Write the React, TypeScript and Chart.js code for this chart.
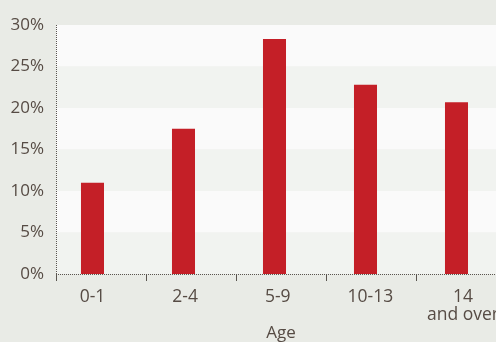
import React, { useEffect, useRef } from "react";
import { Chart, registerables } from "chart.js";

Chart.register(...registerables);

const categories: (string | string[])[] = ["0-1", "2-4", "5-9", "10-13", ["14", "and over"]];
const shares = [11, 17.5, 28.3, 22.8, 20.7];
const yTickValues = [0, 5, 10, 15, 20, 25, 30];
const xTitle = "Age";

const TEXT = "#564b44";
const AXIS = "#5a5550";
const BAR = "#c41f27";
const BG = "#e9ebe6";
const BAND_LIGHT = "#f1f3f0";
const BAND_WHITE = "#fafafa";
const FONT = "'Open Sans', sans-serif";

// axis scale range & boundary marks (in category index units)
const X_MIN = -0.401;
const X_MAX = 4.544;
const boundaryMarks = [X_MIN, 0.588, 1.577, 2.566, 3.555];
const LABEL_SPREAD = 1.018; // labels sit slightly wider apart than bars in the source

const decorPlugin = {
  id: "decor",
  beforeDatasetsDraw(chart: any) {
    const { ctx, chartArea, scales } = chart;
    const y = scales.y;
    ctx.save();
    for (let i = 0; i < yTickValues.length - 1; i++) {
      const top = y.getPixelForValue(yTickValues[i + 1]);
      const bot = y.getPixelForValue(yTickValues[i]);
      ctx.fillStyle = i % 2 === 0 ? BAND_LIGHT : BAND_WHITE;
      ctx.fillRect(chartArea.left, top, chart.width - chartArea.left, bot - top);
    }
    ctx.restore();
  },
  afterDatasetsDraw(chart: any) {
    const { ctx, chartArea, scales } = chart;
    const x = scales.x;
    ctx.save();
    ctx.strokeStyle = AXIS;
    ctx.lineWidth = 1;
    ctx.setLineDash([1, 1]);
    ctx.beginPath();
    ctx.moveTo(chartArea.left + 0.5, chartArea.top);
    ctx.lineTo(chartArea.left + 0.5, chartArea.bottom);
    ctx.moveTo(chartArea.left, chartArea.bottom + 0.5);
    ctx.lineTo(chart.width, chartArea.bottom + 0.5);
    ctx.stroke();
    ctx.setLineDash([]);
    ctx.beginPath();
    for (const b of boundaryMarks) {
      const px = Math.round(x.getPixelForValue(b)) + 0.5;
      ctx.moveTo(px, chartArea.bottom + 1);
      ctx.lineTo(px, chartArea.bottom + 7);
    }
    ctx.stroke();
    ctx.restore();
  },
};

export default function App() {
  const ref = useRef<HTMLCanvasElement>(null);
  useEffect(() => {
    if (!ref.current) return;
    const chart = new Chart(ref.current, {
      type: "bar",
      data: {
        datasets: [
          {
            data: shares.map((v, i) => ({ x: i, y: v })),
            backgroundColor: BAR,
            borderWidth: 0,
            categoryPercentage: 1,
            barPercentage: 0.253,
          },
        ],
      },
      options: {
        animation: false,
        responsive: false,
        layout: { padding: { top: 25, right: 14, bottom: 0, left: 0 } },
        plugins: { legend: { display: false }, tooltip: { enabled: false } },
        scales: {
          x: {
            type: "linear",
            min: X_MIN,
            max: X_MAX,
            offset: false,
            grid: { display: false, drawTicks: false },
            border: { display: false },
            afterBuildTicks: (s: any) => {
              s.ticks = categories.map((_, i) => ({ value: i * LABEL_SPREAD }));
            },
            afterFit: (s: any) => {
              s.height = 68;
            },
            ticks: {
              autoSkip: false,
              maxRotation: 0,
              padding: 14,
              color: TEXT,
              font: { family: FONT, size: 17.5, lineHeight: 1.03 },
              callback: (v: any) => categories[Math.round(Number(v) / LABEL_SPREAD)] as any,
            },
            title: {
              display: true,
              text: xTitle,
              color: TEXT,
              font: { family: FONT, size: 17, lineHeight: 1 },
              padding: { top: 0, bottom: 0 },
            },
          },
          y: {
            min: 0,
            max: 30,
            grid: { display: false, drawTicks: false },
            border: { display: false },
            afterBuildTicks: (s: any) => {
              s.ticks = yTickValues.map((v) => ({ value: v }));
            },
            afterFit: (s: any) => {
              s.width = 56;
            },
            ticks: {
              padding: 12,
              color: TEXT,
              font: { family: FONT, size: 17 },
              callback: (v: any) => `${v}%`,
            },
          },
        },
      },
      plugins: [decorPlugin],
    });
    return () => chart.destroy();
  }, []);

  return (
    <div
      style={{
        position: "fixed",
        left: 0,
        top: 0,
        width: 496,
        height: 342,
        overflow: "hidden",
        background: BG,
      }}
    >
      <canvas ref={ref} width={520} height={342} style={{ display: "block" }} />
    </div>
  );
}
